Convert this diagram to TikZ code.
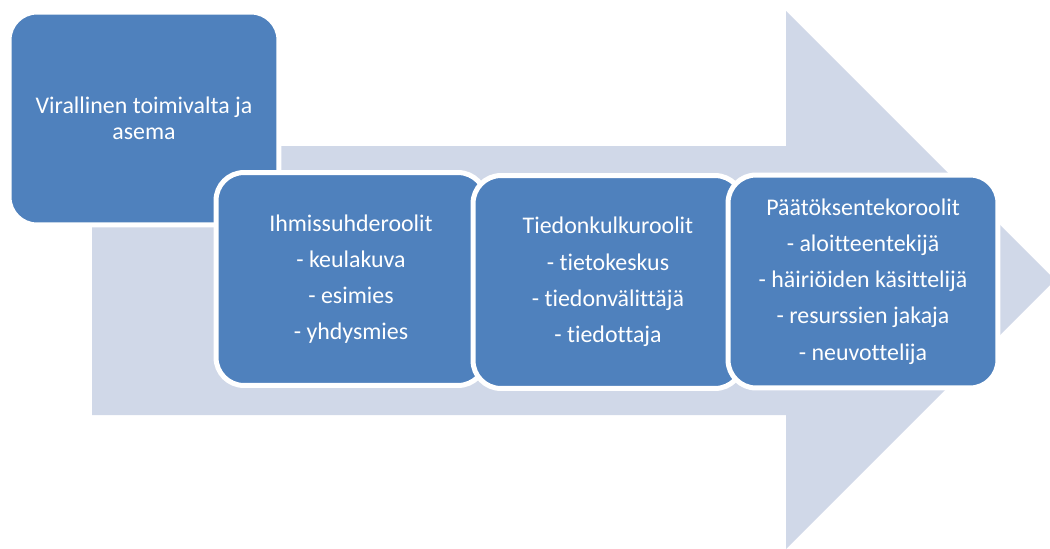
\documentclass[tikz,border=0pt]{standalone}
\usepackage{fontspec}
\setmainfont{Carlito}[Ligatures=CommonOff]
\definecolor{roleblue}{HTML}{4F81BD}
\definecolor{arrowgrey}{HTML}{D0D8E8}

\begin{document}
\begin{tikzpicture}[x=0.02cm,y=-0.02cm,
  rolebox/.style={draw=white,line width=0.1cm,fill=roleblue,rounded corners=0.56cm,
    minimum width=5.4cm,minimum height=4.26cm,text=white,align=center,
    font=\fontsize{13.6}{20.6}\selectfont},
  firstbox/.style={rolebox,font=\fontsize{13.6}{14.8}\selectfont}]
  \clip (0,0) rectangle (1050,548);
  \fill[arrowgrey] (92,146) -- (786,146) -- (786,11) -- (1055,280) -- (786,549)
    -- (786,415) -- (92,415) -- cycle;
  \node[firstbox] (toimivalta) at (144,118.5) {Virallinen toimivalta ja\\asema};
  \node[rolebox] (ihmis) at (351,279) {Ihmissuhderoolit\\- keulakuva\\- esimies\\- yhdysmies};
  \node[rolebox] (tieto) at (608,282) {Tiedonkulkuroolit\\- tietokeskus\\- tiedonvälittäjä\\- tiedottaja};
  \node[rolebox] (paatos) at (863,281.5) {Päätöksentekoroolit\\- aloitteentekijä\\- häiriöiden käsittelijä\\- resurssien jakaja\\- neuvottelija};
\end{tikzpicture}
\end{document}
